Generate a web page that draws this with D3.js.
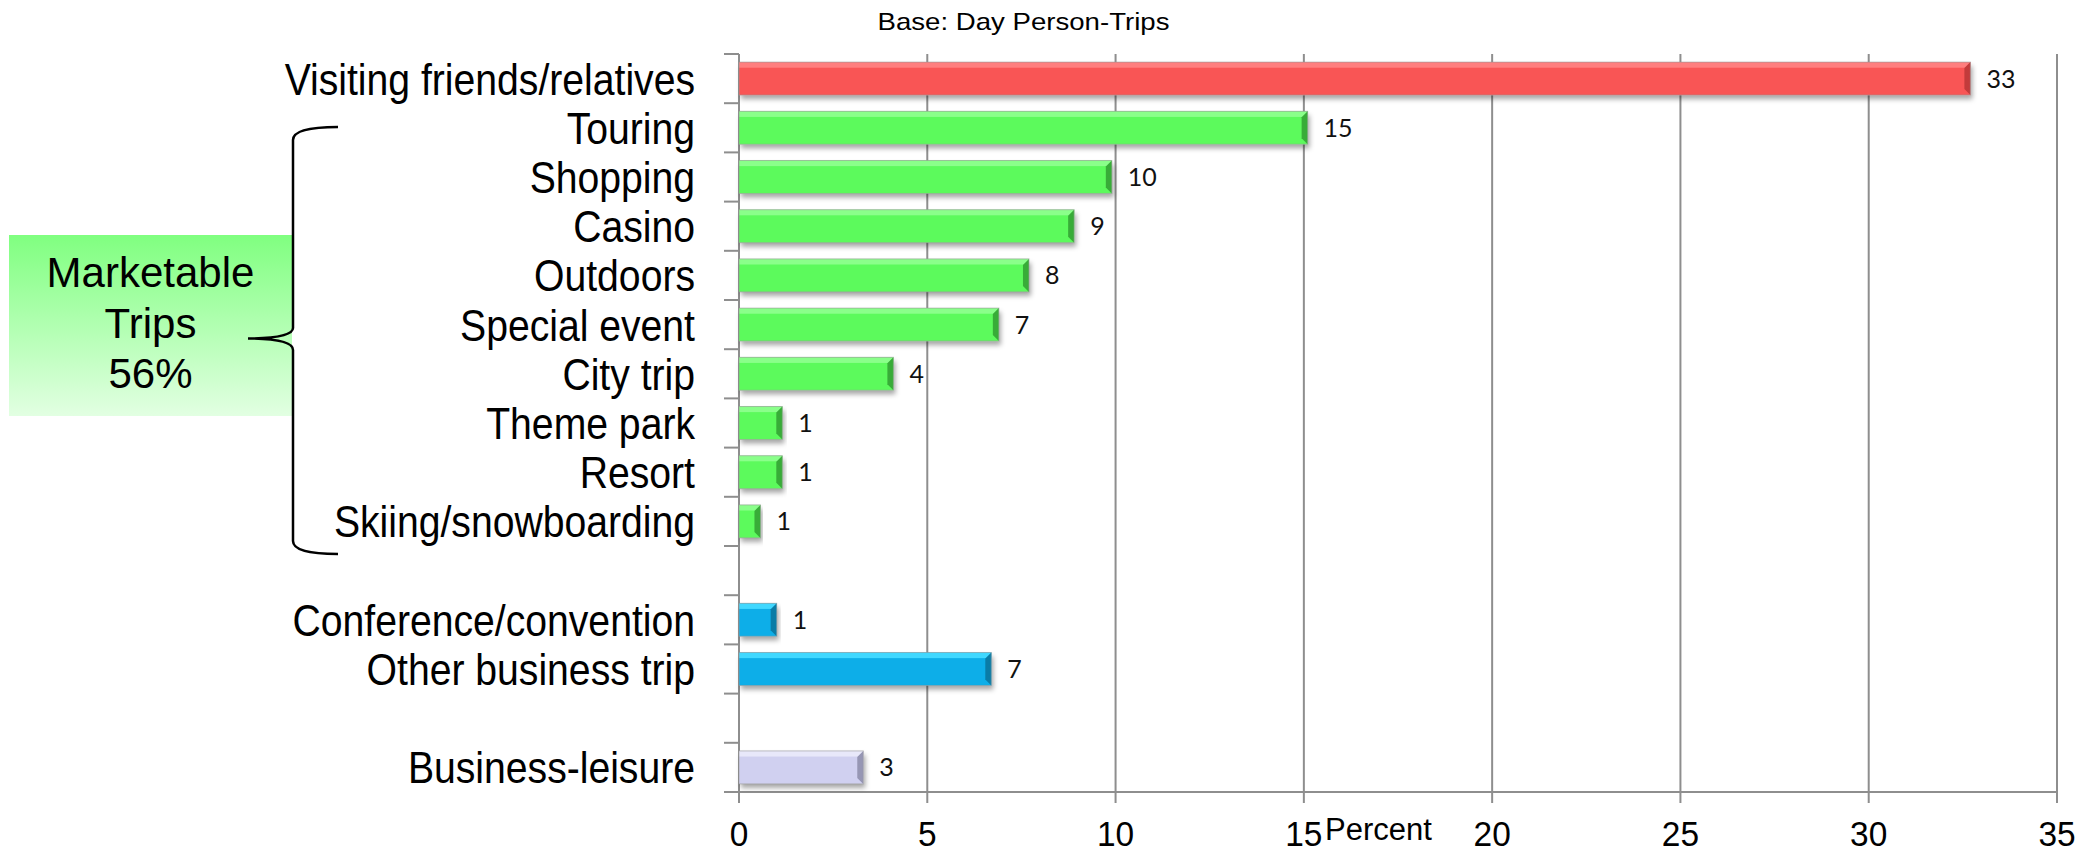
<!DOCTYPE html>
<html><head><meta charset="utf-8">
<script src="https://cdn.jsdelivr.net/npm/d3@7"></script>
<style>body{margin:0;background:#fff}svg{display:block}</style>
</head><body>
<svg id="c" width="2079" height="855"></svg>
<script>
// ---- data ----
const categories = ["Visiting friends/relatives","Touring","Shopping","Casino","Outdoors","Special event","City trip","Theme park","Resort","Skiing/snowboarding","","Conference/convention","Other business trip","","Business-leisure"];
const values = [32.7, 15.1, 9.9, 8.9, 7.7, 6.9, 4.1, 1.15, 1.15, 0.57, null, 1.0, 6.7, null, 3.3];
const groups = ["vfr","leisure","leisure","leisure","leisure","leisure","leisure","leisure","leisure","leisure",null,"business","business",null,"mixed"];
const xTicks = [0, 5, 10, 15, 20, 25, 30, 35];
const subtitle = "Base: Day Person-Trips";
const axisTitle = "Percent";
const boxLines = ["Marketable", "Trips", "56%"];

const palette = {
  vfr:      {main:"#F95555", hi:"#FF7E7E", cap:"#C23B3B"},
  leisure:  {main:"#5CFA5C", hi:"#8AFF8A", cap:"#38AC38"},
  business: {main:"#08AEE8", hi:"#40D8FF", cap:"#0A7CA6"},
  mixed:    {main:"#D0D0F0", hi:"#E8E8FA", cap:"#9696B4"}
};

const FONT = "'Liberation Sans', Arial, sans-serif";
const svg = d3.select("#c");
const defs = svg.append("defs");
const f = defs.append("filter").attr("id","sh").attr("x","-5%").attr("y","-30%").attr("width","115%").attr("height","170%");
f.append("feDropShadow").attr("dx",2).attr("dy",4).attr("stdDeviation",2.5).attr("flood-color","#000").attr("flood-opacity",0.35);
const g = defs.append("linearGradient").attr("id","boxg").attr("x1",0).attr("y1",0).attr("x2",0).attr("y2",1);
g.append("stop").attr("offset","0%").attr("stop-color","#80FF80");
g.append("stop").attr("offset","100%").attr("stop-color","#E2FFE2");

const x = d3.scaleLinear().domain([0, 35]).range([739, 2057]);
const y = d3.scaleBand().domain(d3.range(categories.length)).range([54, 792]).paddingInner(0.33).paddingOuter(0.165);
const step = y.step();
const yTop = y.range()[0], yBot = y.range()[1];
const gridCol = "#8E8E8E";

// gridlines + x ticks
svg.append("g").selectAll("line").data(xTicks).join("line")
  .attr("x1", d => x(d)).attr("x2", d => x(d))
  .attr("y1", yTop).attr("y2", yBot + 11)
  .attr("stroke", gridCol).attr("stroke-width", 2);
// baseline
svg.append("line").attr("x1", x(0) - 15).attr("x2", x(35)).attr("y1", yBot).attr("y2", yBot)
  .attr("stroke", gridCol).attr("stroke-width", 2);
// y ticks at band boundaries
svg.append("g").selectAll("line").data(d3.range(categories.length + 1)).join("line")
  .attr("x1", x(0) - 15).attr("x2", x(0))
  .attr("y1", i => yTop + i * step).attr("y2", i => yTop + i * step)
  .attr("stroke", gridCol).attr("stroke-width", 2);

// x tick labels
svg.append("g").selectAll("text").data(xTicks).join("text")
  .attr("transform", d => `translate(${x(d)},846) scale(0.93,1)`)
  .attr("text-anchor", "middle").attr("font-family", FONT).attr("font-size", 36).attr("fill", "#000")
  .text(d => d);

// axis title
svg.append("text").attr("x", 1325).attr("y", 840).attr("font-family", FONT).attr("font-size", 31).text(axisTitle);
// subtitle
svg.append("text").attr("transform", "translate(1023.5,30) scale(1.15,1)").attr("text-anchor","middle")
  .attr("font-family", FONT).attr("font-size", 24).text(subtitle);

// category labels
svg.append("g").selectAll("text").data(categories).join("text")
  .attr("transform", (d, i) => `translate(695,${y(i) + y.bandwidth()/2 + 16}) scale(0.87,1)`)
  .attr("text-anchor", "end").attr("font-family", FONT).attr("font-size", 45).attr("fill", "#000")
  .text(d => d);

// bars
const bars = categories.map((c, i) => ({i, v: values[i], grp: groups[i]})).filter(d => d.v != null);
const bg = svg.append("g").selectAll("g").data(bars).join("g");
const bw = y.bandwidth();
bg.append("rect").attr("x", x(0)).attr("y", d => y(d.i)).attr("width", d => x(d.v) - x(0)).attr("height", bw)
  .attr("fill", d => palette[d.grp].main).attr("filter", "url(#sh)");
bg.append("rect").attr("x", x(0)).attr("y", d => y(d.i)).attr("width", d => x(d.v) - x(0)).attr("height", bw * 0.17)
  .attr("fill", d => palette[d.grp].hi);
bg.append("polygon").attr("points", d => {
    const x1 = x(d.v), y0 = y(d.i), b = Math.min(6, (x1 - x(0)) / 2);
    return [[x1 - b, y0 + b], [x1, y0], [x1, y0 + bw], [x1 - b, y0 + bw - b]].map(p => p.join(",")).join(" ");
  }).attr("fill", d => palette[d.grp].cap);
bg.append("rect").attr("x", x(0)).attr("y", d => y(d.i)).attr("width", d => x(d.v) - x(0)).attr("height", bw)
  .attr("fill", "none").attr("stroke", "#9a9a9a").attr("stroke-opacity", 0.6).attr("stroke-width", 1);

// value labels
svg.append("g").selectAll("text").data(bars).join("text")
  .attr("x", d => x(d.v) + 16).attr("y", d => y(d.i) + bw/2 + 9)
  .attr("font-family", "Lato, 'Open Sans', sans-serif").attr("font-weight", 400).attr("font-size", 25).attr("fill", "#111")
  .text(d => Math.round(d.v));

// marketable box
svg.append("rect").attr("x", 9).attr("y", 235).attr("width", 283).attr("height", 181).attr("fill", "url(#boxg)");
svg.append("g").selectAll("text").data(boxLines).join("text")
  .attr("x", 150.5).attr("y", (d, i) => 287 + i * 50.5).attr("text-anchor", "middle")
  .attr("font-family", FONT).attr("font-size", 42).text(d => d);

// brace
svg.append("path")
  .attr("d", `M338,127 Q293,127 293,140 L293,328 Q293,338 248,338.5 Q293,339 293,350 L293,541 Q293,554 338,554`)
  .attr("fill", "none").attr("stroke", "#000").attr("stroke-width", 2.5);
</script>
</body></html>
